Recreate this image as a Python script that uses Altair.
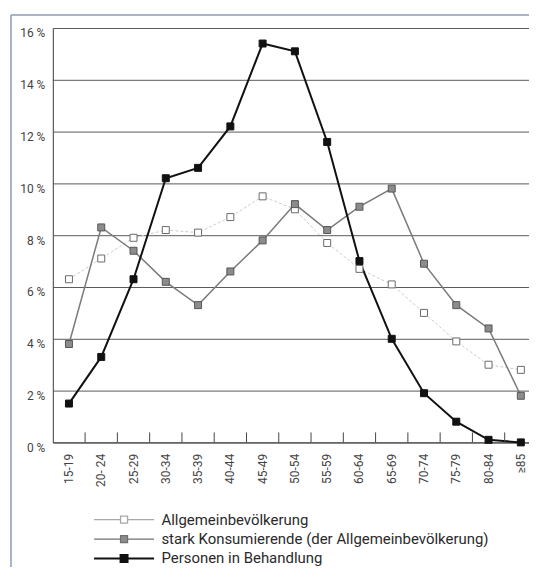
import altair as alt
import pandas as pd

ages = ["15-19", "20- 24", "25-29", "30-34", "35-39", "40-44", "45-49", "50-54",
        "55-59", "60-64", "65-69", "70-74", "75-79", "80-84", "≥85"]
allg = [6.3, 7.1, 7.9, 8.2, 8.1, 8.7, 9.5, 9.0, 7.7, 6.7, 6.1, 5.0, 3.9, 3.0, 2.8]
stark = [3.8, 8.3, 7.4, 6.2, 5.3, 6.6, 7.8, 9.2, 8.2, 9.1, 9.8, 6.9, 5.3, 4.4, 1.8]
behand = [1.5, 3.3, 6.3, 10.2, 10.6, 12.2, 15.4, 15.1, 11.6, 7.0, 4.0, 1.9, 0.8, 0.1, 0.0]
series = ["Allgemeinbevölkerung",
          "stark Konsumierende (der Allgemeinbevölkerung)",
          "Personen in Behandlung"]
yticks = [0, 2, 4, 6, 8, 10, 12, 14, 16]

fill_colors = ["#ffffff", "#8c8c8c", "#111111"]

rows = []
for name, vals in zip(series, [allg, stark, behand]):
    for a, v in zip(ages, vals):
        rows.append({"age": a, "value": v, "serie": name})
df = pd.DataFrame(rows)
cats = pd.DataFrame({"age": ages})
one = pd.DataFrame({"k": [0]})

W, H = 486, 416
FONT = "Roboto"

x_enc = alt.X("age:N", sort=ages,
              scale=alt.Scale(domain=ages, paddingInner=0, paddingOuter=0),
              axis=alt.Axis(title=None, labelAngle=270, ticks=False, tickSize=0,
                            labelPadding=11, domainColor="#444", domainWidth=1,
                            labelFont=FONT, labelFontSize=12, labelColor="#444",
                            grid=False))
y_enc = alt.Y("value:Q", scale=alt.Scale(domain=[0, 16], nice=False),
              axis=alt.Axis(title=None, values=yticks, labelExpr="datum.value + ' %'",
                            grid=True, gridColor="#5a5a5a", gridWidth=1,
                            domainColor="#444", domainWidth=1, ticks=False, tickSize=0,
                            labelPadding=8, labelOffset=5, labelFont=FONT, labelFontSize=12,
                            labelColor="#444"))


def series_line(name, **kw):
    return alt.Chart(df).transform_filter(alt.datum.serie == name).mark_line(**kw).encode(
        x=x_enc, y=y_enc)


line_a = series_line(series[0], color="#cccccc", strokeWidth=1, strokeDash=[3, 2])
line_s = series_line(series[1], color="#7a7a7a", strokeWidth=1.5)
line_b = series_line(series[2], color="#111111", strokeWidth=2)

sym_path = "M-4.3,0H-0.5M0.5,0H4.3M-0.5,-0.5H0.5V0.5H-0.5Z"
stroke_sig = ("datum.value == 'Personen in Behandlung' ? '#111111' : "
              "datum.value == 'Allgemeinbevölkerung' ? '#a8a8a8' : '#707070'")
sw_sig = "datum.value == 'Personen in Behandlung' ? 2 : 1.3"

points = alt.Chart(df).transform_calculate(
    sc="datum.serie == 'Personen in Behandlung' ? '#111111' : "
       "datum.serie == 'Allgemeinbevölkerung' ? '#6a6a6a' : '#555555'"
).mark_square(size=49, strokeWidth=1, opacity=1).encode(
    x=x_enc, y=y_enc,
    fill=alt.Fill("serie:N", scale=alt.Scale(domain=series, range=fill_colors),
                  legend=alt.Legend(title=None, orient="none", legendX=38, legendY=486,
                                    direction="vertical", symbolType=sym_path,
                                    symbolSize=196, symbolOffset=26, labelOffset=30,
                                    labelLimit=0,
                                    labelFont=FONT, labelFontSize=15, labelColor="#2a2a2a",
                                    rowPadding=3.5, padding=0, symbolOpacity=1,
                                    symbolStrokeColor=alt.ExprRef(expr=stroke_sig),
                                    symbolStrokeWidth=alt.ExprRef(expr=sw_sig))),
    stroke=alt.Stroke("sc:N", scale=None),
)

ticks = alt.Chart(cats).mark_rule(color="#444", strokeWidth=1).encode(
    x=alt.X("age:N", sort=ages, bandPosition=1),
    y=alt.value(H - 10), y2=alt.value(H),
)

frame_left = alt.Chart(one).mark_rule(color="#8c9cb4", strokeWidth=1.5).encode(
    x=alt.value(-42), y=alt.value(-13), y2=alt.value(H + 125))
frame_top = alt.Chart(one).mark_rule(color="#8c9cb4", strokeWidth=1.5).encode(
    x=alt.value(-42), x2=alt.value(W), y=alt.value(-13))

chart = alt.layer(frame_left, frame_top, line_a, line_s, line_b, ticks, points).properties(
    width=W, height=H,
    padding={"left": 2, "top": 5, "right": -9, "bottom": 0},
).configure_view(stroke=None).configure(background="white")

chart.save("out.html", embed_options={"renderer": "svg", "actions": False})
